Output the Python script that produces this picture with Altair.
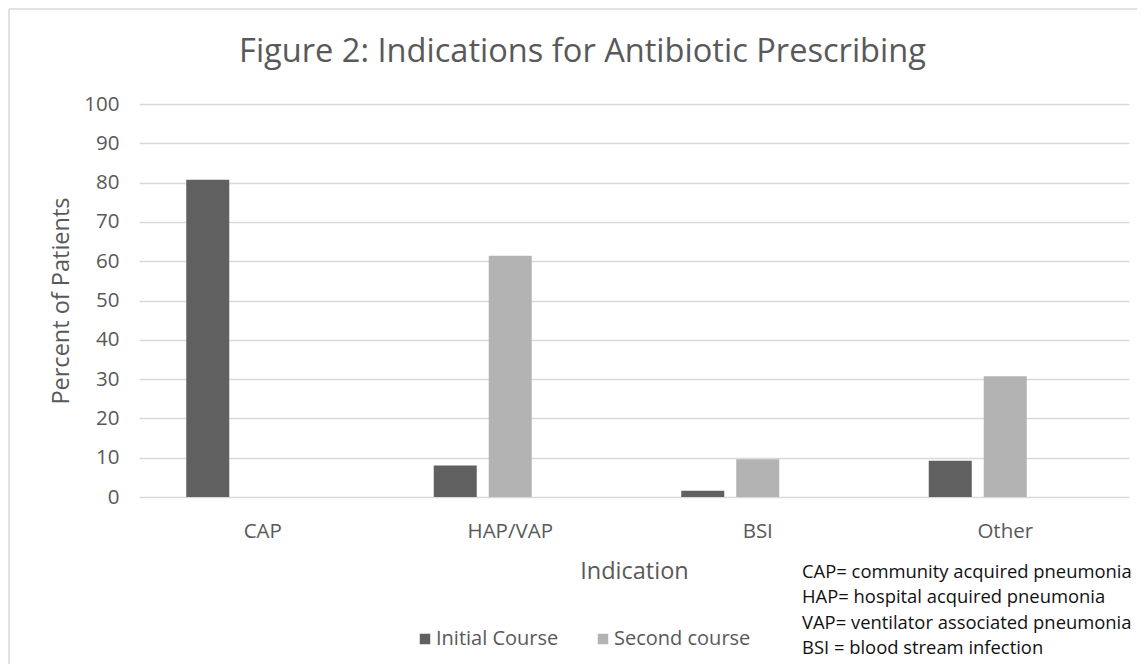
import altair as alt
import pandas as pd

categories = ["CAP", "HAP/VAP", "BSI", "Other"]
series = ["Initial Course", "Second course"]
initial = [80.7, 8.0, 1.6, 9.2]
second = [0.0, 61.4, 9.6, 30.7]
offset_slots = ["Initial Course", "Second course", "(empty)"]
colors = ["#606060", "#b3b3b3"]
title_text = "Figure 2: Indications for Antibiotic Prescribing"
notes = [
    "CAP= community acquired pneumonia",
    "HAP= hospital acquired pneumonia",
    "VAP= ventilator associated pneumonia",
    "BSI = blood stream infection",
]

rows = []
for c, a, b in zip(categories, initial, second):
    rows.append({"Indication": c, "Series": series[0], "Value": a})
    rows.append({"Indication": c, "Series": series[1], "Value": b})
df = pd.DataFrame(rows)

FONT = "Open Sans"
GRAY = "#595959"
W, H = 990, 393

bars = alt.Chart(df).mark_bar().encode(
    x=alt.X(
        "Indication:N",
        sort=categories,
        scale=alt.Scale(paddingInner=0, paddingOuter=0),
        axis=alt.Axis(
            title="Indication", labelAngle=0, ticks=False, domain=False,
            labelPadding=24, titlePadding=18, labelFontSize=20.5, titleFontSize=23.5,
            labelColor=GRAY, titleColor=GRAY, titleFontWeight="normal",
            labelFont=FONT, titleFont=FONT, grid=False,
        ),
    ),
    xOffset=alt.XOffset(
        "Series:N",
        scale=alt.Scale(domain=offset_slots, paddingInner=0.218, paddingOuter=0.859),
    ),
    y=alt.Y(
        "Value:Q",
        scale=alt.Scale(domain=[0, 100]),
        axis=alt.Axis(
            values=list(range(0, 101, 10)), title="Percent of Patients",
            ticks=False, domain=False, labelPadding=20, titlePadding=10,
            labelFontSize=20.5, titleFontSize=23.5, labelColor=GRAY, titleColor=GRAY,
            titleFontWeight="normal", labelFont=FONT, titleFont=FONT,
            grid=True, gridColor="#d9d9d9", gridWidth=1.5,
        ),
    ),
    color=alt.Color(
        "Series:N",
        scale=alt.Scale(domain=series, range=colors),
        legend=alt.Legend(
            orient="none", legendX=276, legendY=525, direction="horizontal",
            title=None, symbolType="square", symbolSize=110, symbolStrokeWidth=0,
            labelFontSize=20, labelColor=GRAY, labelFont=FONT, columnPadding=34,
            labelOffset=1,
        ),
    ),
)

one = alt.Data(values=[{"k": 1}])

title = alt.Chart(one).mark_text(
    text=title_text, font=FONT, fontSize=32.6, color=GRAY, align="center",
    baseline="alphabetic",
).encode(x=alt.value(443.5), y=alt.value(-42))

note = alt.Chart(one).mark_text(
    text=notes, font=FONT, fontSize=18.4, color="#111111", align="left",
    baseline="top", lineHeight=25.3,
).encode(x=alt.value(663), y=alt.value(459))

top_edge = alt.Chart(one).mark_rule(color="#d9d9d9", strokeWidth=1.5, clip=False).encode(
    x=alt.value(-130), x2=alt.value(1000), y=alt.value(-95)
)
left_edge = alt.Chart(one).mark_rule(color="#d9d9d9", strokeWidth=1.5, clip=False).encode(
    x=alt.value(-130), y=alt.value(-95), y2=alt.value(570)
)

chart = alt.layer(top_edge, left_edge, bars, title, note).properties(
    width=W, height=H,
    autosize=alt.AutoSizeParams(type="none"),
    padding={"left": 131, "top": 96, "right": 8, "bottom": 167},
).configure_view(stroke=None)

chart.save("out.html", embed_options={"renderer": "svg", "actions": False})
